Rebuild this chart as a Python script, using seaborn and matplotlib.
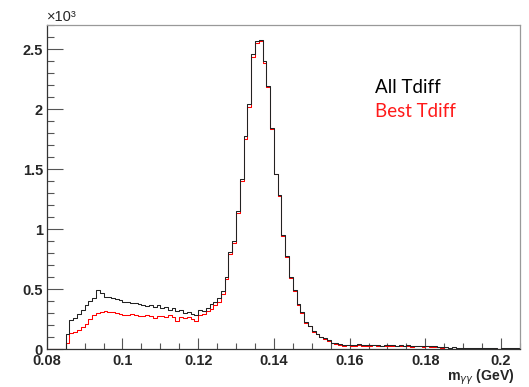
import numpy as np
import pandas as pd
import matplotlib
matplotlib.use("Agg")
import matplotlib.pyplot as plt
from matplotlib.ticker import MultipleLocator, FuncFormatter
import seaborn as sns

# Diphoton invariant mass histogram, 1 MeV bins from 0.080 to 0.205 GeV
m_lo, m_hi, n_bins = 0.080, 0.205, 125

# Entries per bin, all timing-difference candidates
all_tdiff = [
    0, 0, 0, 0, 0,
    125, 245, 262, 295, 330, 368, 402, 432, 495, 470,
    440, 436, 428, 420, 410, 395, 392, 388, 386, 378,
    368, 358, 372, 352, 368, 345, 356, 332, 346, 318,
    330, 302, 312, 298, 285, 325, 318, 345, 380, 398,
    425, 490, 605, 810, 900, 1150, 1420, 1775, 2040, 2455,
    2568, 2575, 2402, 2195, 1840, 1463, 1283, 955, 775, 605,
    497, 378, 311, 225, 198, 150, 132, 108, 92, 75,
    58, 50, 42, 38, 40, 36, 38, 42, 35, 38,
    34, 40, 36, 33, 38, 35, 40, 32, 36, 30,
    34, 28, 32, 30, 26, 30, 25, 28, 22, 20,
    18, 15, 18, 12, 16, 14, 10, 15, 12, 9,
    14, 12, 10, 16, 8, 12, 10, 14, 9, 12,
]

# Entries per bin, best timing-difference candidate only
best_tdiff = [
    0, 0, 0, 0, 0,
    50, 135, 145, 160, 185, 212, 255, 288, 305, 315,
    318, 316, 310, 302, 296, 286, 289, 293, 288, 282,
    278, 286, 280, 262, 278, 282, 272, 285, 268, 238,
    272, 262, 268, 255, 235, 285, 292, 318, 340, 370,
    398, 465, 590, 795, 885, 1135, 1405, 1755, 2020, 2436,
    2550, 2565, 2385, 2185, 1835, 1458, 1275, 948, 768, 598,
    490, 370, 305, 218, 192, 144, 126, 102, 86, 70,
    52, 45, 38, 33, 35, 32, 33, 36, 30, 33,
    30, 34, 31, 28, 32, 30, 33, 27, 30, 25,
    28, 24, 27, 25, 22, 25, 21, 23, 19, 16,
    0, 0, 0, 0, 0, 0, 0, 0, 0, 0,
    0, 0, 0, 0, 0, 0, 0, 0, 0, 0,
]

edges = np.linspace(m_lo, m_hi, n_bins + 1)
centers = 0.5 * (edges[:-1] + edges[1:])
df = pd.DataFrame({"m": centers, "all": all_tdiff, "best": best_tdiff})

sns.set_style("ticks")
plt.rcParams["font.family"] = ["Liberation Sans", "DejaVu Sans"]

fig = plt.figure(figsize=(5.29, 3.87), dpi=100)
ax = fig.add_axes([0.0883, 0.0969, 0.8947, 0.8385])

sns.histplot(data=df, x="m", weights="best", bins=n_bins,
             binrange=(m_lo, m_hi), element="step", fill=False,
             color="#ff0000", linewidth=0.75, ax=ax)
sns.histplot(data=df, x="m", weights="all", bins=n_bins,
             binrange=(m_lo, m_hi), element="step", fill=False,
             color="#222222", linewidth=0.75, ax=ax)

ax.set_xlim(m_lo, m_hi)
ax.set_ylim(0, 2700)
ax.set_xlabel("")
ax.set_ylabel("")

ax.xaxis.set_major_locator(MultipleLocator(0.02))
ax.xaxis.set_minor_locator(MultipleLocator(0.005))
ax.yaxis.set_major_locator(MultipleLocator(500))
ax.yaxis.set_minor_locator(MultipleLocator(100))
ax.xaxis.set_major_formatter(FuncFormatter(lambda v, p: f"{v:g}"))
ax.yaxis.set_major_formatter(FuncFormatter(lambda v, p: f"{v / 1000:g}"))

ax.tick_params(axis="both", which="both", direction="in", color="#555555",
               top=False, right=False, labelsize=10.5)
ax.tick_params(axis="y", which="major", length=11.5, width=0.8, pad=2.6)
ax.tick_params(axis="y", which="minor", length=5, width=0.8)
ax.tick_params(axis="x", which="major", length=8, width=0.8, pad=3.0)
ax.tick_params(axis="x", which="minor", length=4.3, width=0.8)
for lab in ax.get_xticklabels() + ax.get_yticklabels():
    lab.set_fontweight("bold")

for side in ("left", "bottom"):
    ax.spines[side].set_color("#333333")
    ax.spines[side].set_linewidth(0.9)
for side in ("top", "right"):
    ax.spines[side].set_visible(True)
    ax.spines[side].set_color("#999999")
    ax.spines[side].set_linewidth(0.9)

ax.text(0.0, 1.004, "×10³", transform=ax.transAxes, ha="left", va="bottom",
        fontsize=10.5)

fig.text(515 / 529, 1 - 377 / 387, r"m$_{\gamma\gamma}$ (GeV)", ha="right",
         va="center", fontsize=10.2, fontweight="bold")

fig.text(375 / 529, 1 - 93 / 387, "All Tdiff", color="black",
         family=["Lato", "DejaVu Sans"], fontsize=13.5, va="baseline")
fig.text(375 / 529, 1 - 117 / 387, "Best Tdiff", color="#ff1a1a",
         family=["Lato", "DejaVu Sans"], fontsize=13.5, va="baseline")

fig.savefig("out.png", dpi=100)
